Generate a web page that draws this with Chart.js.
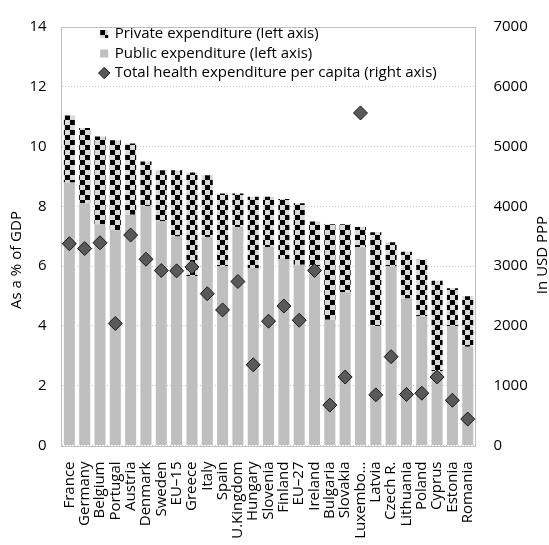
<!DOCTYPE html>
<html>
<head>
<meta charset="utf-8">
<script src="https://cdn.jsdelivr.net/npm/chart.js@4.4.0/dist/chart.umd.min.js"></script>
<style>
  html, body { margin: 0; padding: 0; background: #ffffff; }
  #wrap { width: 549px; height: 545px; position: relative; }
</style>
</head>
<body>
<div id="wrap"><canvas id="chart"></canvas></div>
<script>
// Health expenditure by country, % of GDP (left axis) and USD PPP per capita (right axis)
const countries = ["France", "Germany", "Belgium", "Portugal", "Austria", "Denmark", "Sweden", "EU\u201315",
  "Greece", "Italy", "Spain", "U.Kingdom", "Hungary", "Slovenia", "Finland", "EU\u201327", "Ireland",
  "Bulgaria", "Slovakia", "Luxembo...", "Latvia", "Czech R.", "Lithuania", "Poland", "Cyprus", "Estonia", "Romania"];

const publicExpenditure = [8.80, 8.10, 7.40, 7.20, 7.72, 8.01, 7.51, 6.99,
  5.67, 6.97, 6.00, 7.31, 5.94, 6.64, 6.24, 6.05, 6.00,
  4.21, 5.13, 6.63, 4.00, 6.00, 4.92, 4.32, 2.49, 4.00, 3.30];

const privateExpenditure = [2.24, 2.52, 2.94, 3.01, 2.38, 1.49, 1.70, 2.22,
  3.46, 2.07, 2.43, 1.12, 2.38, 1.68, 2.01, 2.05, 1.49,
  3.19, 2.27, 0.68, 3.13, 0.80, 1.56, 1.89, 3.02, 1.26, 1.69];

const perCapitaUsdPpp = [3375, 3294, 3391, 2041, 3520, 3116, 2927, 2921,
  2986, 2539, 2268, 2743, 1350, 2079, 2333, 2095, 2928,
  676, 1145, 5562, 847, 1486, 854, 875, 1145, 757, 442];

const seriesNames = ["Public expenditure (left axis)", "Private expenditure (left axis)",
  "Total health expenditure per capita (right axis)"];
const leftAxisTitle = "As a % of GDP";
const rightAxisTitle = "In USD PPP";

const FONT = "'Open Sans', sans-serif";

// black / light grey checkerboard fill for the private share
function checkerPattern() {
  const tile = document.createElement('canvas');
  tile.width = 10; tile.height = 10;
  const t = tile.getContext('2d');
  t.fillStyle = '#d9d9d9';
  t.fillRect(0, 0, 10, 10);
  t.fillStyle = '#000000';
  t.fillRect(0, 0, 5, 5);
  t.fillRect(5, 5, 5, 5);
  return t.createPattern(tile, 'repeat');
}

const canvas = document.getElementById('chart');
const ctx = canvas.getContext('2d');
const privateFill = checkerPattern();

// outline around the plotting area
const plotFrame = {
  id: 'plotFrame',
  beforeDatasetsDraw(chart) {
    const a = chart.chartArea;
    const c = chart.ctx;
    c.save();
    c.strokeStyle = '#bfbfbf';
    c.lineWidth = 1;
    c.strokeRect(Math.round(a.left) - 0.5, Math.round(a.top) + 0.5,
      Math.round(a.right - a.left), Math.round(a.bottom - a.top));
    c.restore();
  }
};

// place the legend inside the plot, near its top-left corner
const legendInset = {
  id: 'legendInset',
  afterLayout(chart) {
    const lg = chart.legend;
    if (!lg) return;
    lg.left += 35;
    lg.top += 22;
  }
};

// vertical axis titles on both sides, reading bottom to top
const axisTitles = {
  id: 'axisTitles',
  afterDraw(chart) {
    const c = chart.ctx;
    c.save();
    c.fillStyle = '#000000';
    c.font = "15px " + FONT;
    c.textAlign = 'center';
    c.textBaseline = 'middle';
    c.translate(16.5, 260);
    c.rotate(-Math.PI / 2);
    c.fillText(leftAxisTitle, 0, 0);
    c.restore();

    c.save();
    c.fillStyle = '#000000';
    c.font = "15px " + FONT;
    c.textAlign = 'center';
    c.textBaseline = 'middle';
    c.translate(543, 255);
    c.rotate(-Math.PI / 2);
    c.fillText(rightAxisTitle, 0, 0);
    c.restore();
  }
};

const legendRank = { 0: 1, 1: 0, 2: 2 };

new Chart(ctx, {
  data: {
    labels: countries,
    datasets: [
      {
        type: 'bar',
        label: seriesNames[0],
        data: publicExpenditure,
        backgroundColor: '#bfbfbf',
        borderWidth: 0,
        yAxisID: 'y',
        barPercentage: 0.72,
        categoryPercentage: 1.0
      },
      {
        type: 'bar',
        label: seriesNames[1],
        data: privateExpenditure,
        backgroundColor: privateFill,
        borderWidth: 0,
        yAxisID: 'y',
        barPercentage: 0.72,
        categoryPercentage: 1.0
      },
      {
        type: 'line',
        label: seriesNames[2],
        data: perCapitaUsdPpp,
        yAxisID: 'y1',
        showLine: false,
        order: -1,
        pointStyle: 'rectRot',
        pointRadius: 7,
        pointHoverRadius: 7,
        pointBackgroundColor: '#595959',
        pointBorderColor: '#1a1a1a',
        pointBorderWidth: 1,
        backgroundColor: '#595959',
        borderColor: '#1a1a1a'
      }
    ]
  },
  options: {
    responsive: true,
    maintainAspectRatio: false,
    animation: false,
    devicePixelRatio: 1,
    layout: { padding: { top: 13.5, left: 0, right: 0, bottom: 0 } },
    plugins: {
      tooltip: { enabled: false },
      legend: {
        position: 'chartArea',
        align: 'start',
        labels: {
          usePointStyle: true,
          boxWidth: 6,
          boxHeight: 8,
          padding: 4.5,
          color: '#000000',
          font: { family: FONT, size: 15 },
          generateLabels(chart) {
            const items = Chart.defaults.plugins.legend.labels.generateLabels(chart);
            items.forEach((it) => {
              const ds = chart.data.datasets[it.datasetIndex];
              if (ds.type === 'line') {
                it.pointStyle = 'rectRot';
                it.fillStyle = '#595959';
                it.strokeStyle = '#1a1a1a';
                it.lineWidth = 1;
              } else {
                it.pointStyle = 'rect';
                it.fillStyle = ds.backgroundColor;
                it.strokeStyle = 'rgba(0,0,0,0)';
                it.lineWidth = 0;
              }
              it.rotation = 0;
            });
            return items;
          },
          sort: (a, b) => legendRank[a.datasetIndex] - legendRank[b.datasetIndex]
        }
      }
    },
    scales: {
      x: {
        stacked: true,
        offset: true,
        grid: { display: false },
        border: { display: false },
        ticks: {
          autoSkip: false,
          minRotation: 90,
          maxRotation: 90,
          padding: 8,
          color: '#000000',
          font: { family: FONT, size: 15 }
        },
        afterFit(scale) { scale.height = 99.5; }
      },
      y: {
        position: 'left',
        stacked: true,
        min: 0,
        max: 14,
        ticks: {
          stepSize: 2,
          padding: 15,
          color: '#000000',
          font: { family: FONT, size: 15 }
        },
        grid: { color: '#c8c8c8', lineWidth: 1, drawTicks: false },
        border: { display: false, dash: [1, 2] },
        afterFit(scale) { scale.width = 61.7; }
      },
      y1: {
        position: 'right',
        min: 0,
        max: 7000,
        ticks: {
          stepSize: 1000,
          padding: 18,
          color: '#000000',
          font: { family: FONT, size: 15 },
          callback: (v) => String(v)
        },
        grid: { display: false, drawTicks: false },
        border: { display: false },
        afterFit(scale) { scale.width = 73.6; }
      }
    }
  },
  plugins: [plotFrame, legendInset, axisTitles]
});
</script>
</body>
</html>
